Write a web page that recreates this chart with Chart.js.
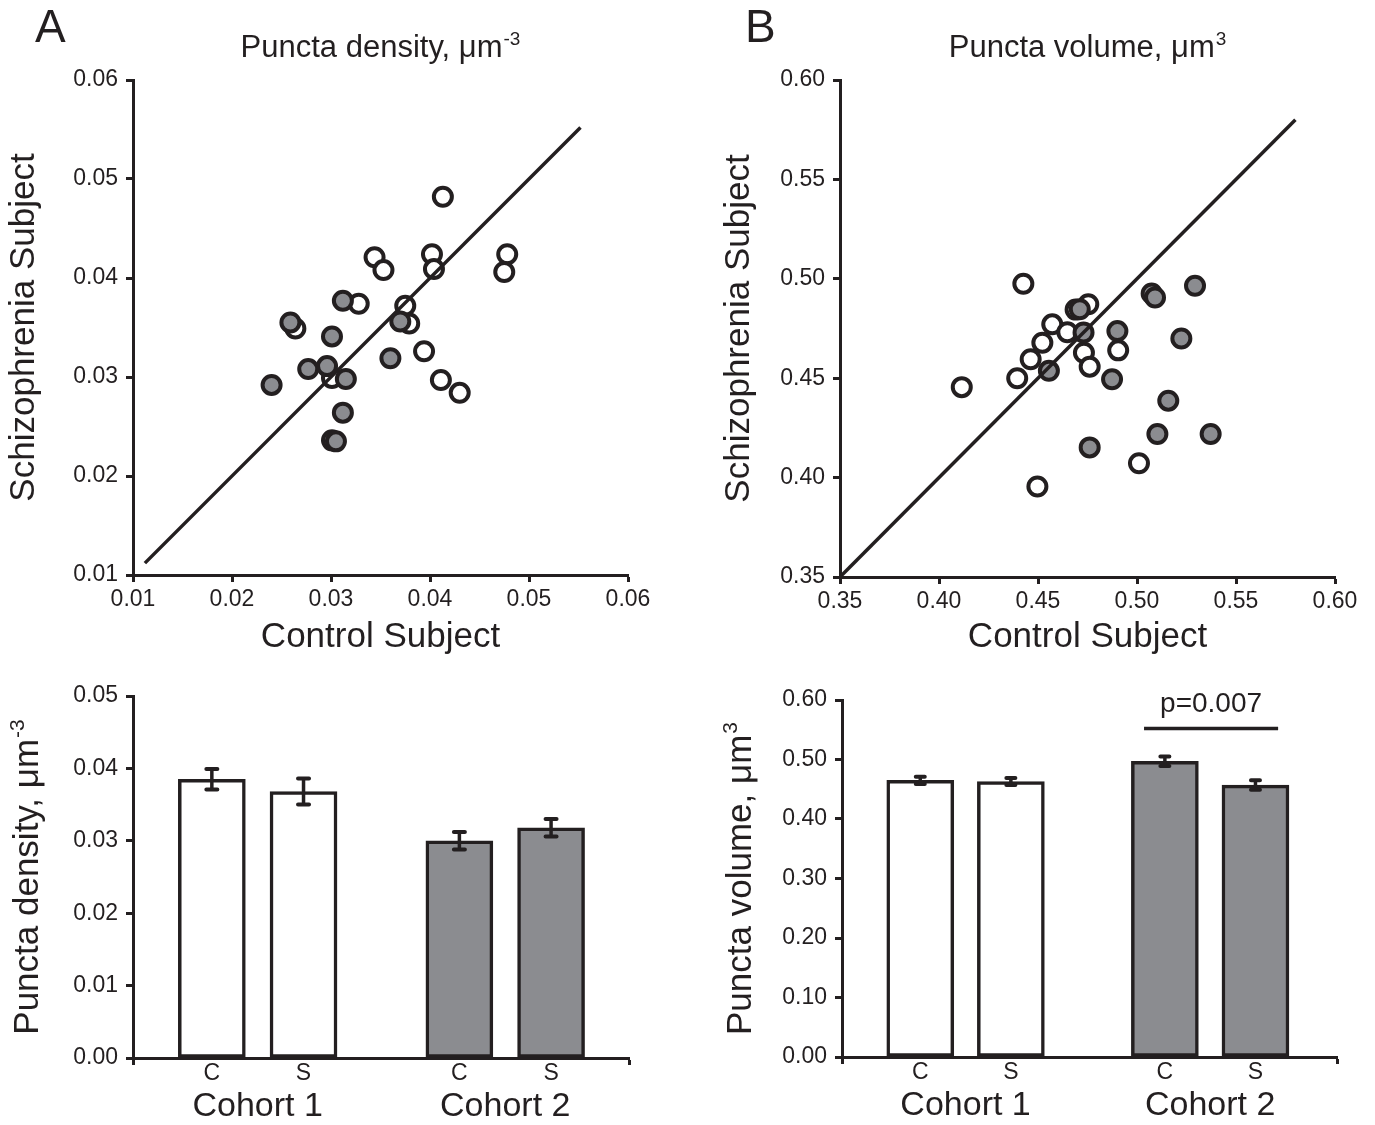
<!DOCTYPE html>
<html>
<head>
<meta charset="utf-8">
<title>Puncta density and volume</title>
<script src="https://cdn.jsdelivr.net/npm/chart.js@4.4.0/dist/chart.umd.min.js"></script>
<style>
  body { margin: 0; background: #fff; }
  #wrap { position: relative; width: 1375px; height: 1125px; overflow: hidden; }
  canvas { position: absolute; }
</style>
</head>
<body>
<div id="wrap">
  <canvas id="densityScatter" width="700" height="680" style="left:0;top:0"></canvas>
  <canvas id="volumeScatter" width="675" height="680" style="left:700px;top:0"></canvas>
  <canvas id="densityBars" width="700" height="452" style="left:0;top:673px"></canvas>
  <canvas id="volumeBars" width="675" height="448" style="left:700px;top:677px"></canvas>
</div>
<script>
// ---- data ----
// A: puncta density, control (x) vs schizophrenia (y)
const densOpenX = [0.0413, 0.0344, 0.0353, 0.0402, 0.0404, 0.0478, 0.0475, 0.0328, 0.0375, 0.0379, 0.0394, 0.0411, 0.0430, 0.0264, 0.0301];
const densOpenY = [0.0482, 0.0421, 0.0408, 0.0424, 0.0409, 0.0424, 0.0406, 0.0374, 0.0372, 0.0354, 0.0326, 0.0297, 0.0284, 0.0349, 0.0299];
const densFilledX = [0.0312, 0.0259, 0.0301, 0.0277, 0.0296, 0.0315, 0.0240, 0.0360, 0.0370, 0.0312, 0.0301, 0.0305];
const densFilledY = [0.0377, 0.0355, 0.0341, 0.0308, 0.0311, 0.0298, 0.0292, 0.0319, 0.0356, 0.0264, 0.0236, 0.0235];
const densIdentity = [0.0112, 0.0552];
const densTicks = [0.01, 0.02, 0.03, 0.04, 0.05, 0.06];

// B: puncta volume
const volOpenX = [0.4426, 0.4115, 0.4395, 0.4463, 0.4522, 0.4572, 0.4648, 0.4690, 0.4754, 0.4732, 0.4761, 0.4905, 0.5010, 0.4497];
const volOpenY = [0.4975, 0.4455, 0.4500, 0.4595, 0.4678, 0.4771, 0.4731, 0.4845, 0.4872, 0.4628, 0.4558, 0.4640, 0.4072, 0.3955];
const volFilledX = [0.4711, 0.4730, 0.4555, 0.4901, 0.4874, 0.5074, 0.5091, 0.5293, 0.5224, 0.5158, 0.5103, 0.5372, 0.4761];
const volFilledY = [0.4847, 0.4730, 0.4537, 0.4737, 0.4495, 0.4926, 0.4906, 0.4965, 0.4700, 0.4387, 0.4219, 0.4219, 0.4152];
const volIdentity = [0.35, 0.58];
const volTicks = [0.35, 0.40, 0.45, 0.50, 0.55, 0.60];

// bar panels: C = control, S = schizophrenia, per cohort
const barCodes = ['C', 'S', 'C', 'S'];
const barCohort = [0, 0, 1, 1];
const barPos = [1, 2, 3.7, 4.7];
const cohortNames = ['Cohort 1', 'Cohort 2'];
const cohortPos = [1.5, 4.2];
const densMeans = [0.0385, 0.0368, 0.0300, 0.0318];
const densErr = [0.0014, 0.0018, 0.0012, 0.0012];
const densBarTicks = [0, 0.01, 0.02, 0.03, 0.04, 0.05];
const volMeans = [0.465, 0.463, 0.497, 0.457];
const volErr = [0.006, 0.006, 0.008, 0.008];
const volBarTicks = [0, 0.1, 0.2, 0.3, 0.4, 0.5, 0.6];
const volSignif = { from: 3.47, to: 4.95, y: 0.552, label: 'p=0.007' };

// ---- style ----
const ink = '#231f20';
const gray = '#8b8c90';
const family = "'Liberation Sans', Arial, Helvetica, sans-serif";
const cohortFill = ['#ffffff', gray];

Chart.defaults.font.family = family;
Chart.defaults.color = ink;

const zip = (xs, ys) => xs.map((x, i) => ({ x: x, y: ys[i] }));
const fixedTicks = arr => scale => { scale.ticks = arr.map(v => ({ value: v })); };

// text with an optional superscript, drawn in canvas pixels
const textLayer = {
  id: 'textLayer',
  afterDraw(chart, args, opts) {
    const ctx = chart.ctx;
    (opts.items || []).forEach(it => {
      const x = typeof it.x === 'function' ? it.x(chart) : it.x;
      const y = typeof it.y === 'function' ? it.y(chart) : it.y;
      const supSize = Math.round(it.size * 0.6);
      ctx.save();
      ctx.translate(x, y);
      if (it.rotate) ctx.rotate(it.rotate);
      ctx.fillStyle = ink;
      ctx.textBaseline = 'alphabetic';
      ctx.textAlign = 'left';
      ctx.font = it.size + 'px ' + family;
      const w1 = ctx.measureText(it.text).width;
      let w2 = 0;
      if (it.sup) {
        ctx.font = supSize + 'px ' + family;
        w2 = ctx.measureText(it.sup).width + 1;
      }
      const x0 = it.align === 'left' ? 0 : -(w1 + w2) / 2;
      ctx.font = it.size + 'px ' + family;
      ctx.fillText(it.text, x0, 0);
      if (it.sup) {
        ctx.font = supSize + 'px ' + family;
        ctx.fillText(it.sup, x0 + w1 + 1, -it.size * 0.4);
      }
      ctx.restore();
    });
  }
};

// mean +/- error whiskers and the significance bracket
const errorBars = {
  id: 'errorBars',
  afterDatasetsDraw(chart, args, opts) {
    if (!opts.means) return;
    const ctx = chart.ctx;
    const xs = chart.scales.x, ys = chart.scales.y;
    ctx.save();
    ctx.strokeStyle = ink;
    ctx.fillStyle = ink;
    opts.means.forEach((m, i) => {
      const px = xs.getPixelForValue(barPos[i]);
      const top = ys.getPixelForValue(m + opts.errors[i]);
      const bot = ys.getPixelForValue(m - opts.errors[i]);
      ctx.lineWidth = 3.5;
      ctx.beginPath();
      ctx.moveTo(px, top);
      ctx.lineTo(px, bot);
      ctx.stroke();
      ctx.lineWidth = 4;
      ctx.lineCap = 'round';
      ctx.beginPath();
      ctx.moveTo(px - opts.cap, top); ctx.lineTo(px + opts.cap, top);
      ctx.moveTo(px - opts.cap, bot); ctx.lineTo(px + opts.cap, bot);
      ctx.stroke();
      ctx.lineCap = 'butt';
    });
    if (opts.signif) {
      const s = opts.signif;
      const yy = ys.getPixelForValue(s.y);
      const x1 = xs.getPixelForValue(s.from), x2 = xs.getPixelForValue(s.to);
      ctx.lineWidth = 3.5;
      ctx.beginPath();
      ctx.moveTo(x1, yy); ctx.lineTo(x2, yy);
      ctx.stroke();
      ctx.font = '28px ' + family;
      ctx.textAlign = 'center';
      ctx.textBaseline = 'alphabetic';
      ctx.fillText(s.label, (x1 + x2) / 2, yy - 17);
    }
    ctx.restore();
  }
};

function axisY(tickList, width, extra) {
  return Object.assign({
    type: 'linear',
    min: tickList[0],
    max: tickList[tickList.length - 1],
    afterBuildTicks: fixedTicks(tickList),
    afterFit: s => { s.width = width; },
    ticks: { callback: v => v.toFixed(2), font: { size: 23 }, color: ink, padding: 8 },
    grid: { drawOnChartArea: false, tickLength: 7, tickWidth: 3, tickColor: ink },
    border: { color: ink, width: 3 }
  }, extra || {});
}

function scatterConfig(p) {
  const n = p.ticks.length;
  return {
    type: 'scatter',
    data: {
      datasets: [
        { label: 'identity', type: 'line', data: zip(p.identity, p.identity),
          borderColor: ink, borderWidth: 3.5, pointRadius: 0, order: 0 },
        { label: 'Cohort 2', data: zip(p.fx, p.fy), backgroundColor: gray,
          borderColor: ink, borderWidth: 4, pointRadius: 9, order: 1 },
        { label: 'Cohort 1', data: zip(p.ox, p.oy), backgroundColor: '#ffffff',
          borderColor: ink, borderWidth: 4, pointRadius: 9, order: 2 }
      ]
    },
    options: {
      responsive: false,
      animation: false,
      layout: { padding: { top: 80, right: p.padRight, left: 0, bottom: 0 } },
      plugins: {
        legend: { display: false },
        tooltip: { enabled: false },
        textLayer: { items: [
          { text: p.letter, size: 46, x: p.letterX, y: 42, align: 'left' },
          { text: p.title, sup: p.titleSup, size: 31,
            x: c => (c.chartArea.left + c.chartArea.right) / 2, y: 57 }
        ] }
      },
      scales: {
        x: {
          type: 'linear',
          min: p.ticks[0],
          max: p.ticks[n - 1],
          afterBuildTicks: fixedTicks(p.ticks),
          afterFit: s => { s.height = p.xHeight; },
          ticks: { callback: v => v.toFixed(2), font: { size: 23 }, color: ink, padding: 4, maxRotation: 0 },
          grid: { drawOnChartArea: false, tickLength: 7, tickWidth: 3, tickColor: ink },
          border: { color: ink, width: 3 },
          title: { display: true, text: 'Control Subject', font: { size: 35 }, color: ink, padding: { bottom: 22 } }
        },
        y: axisY(p.ticks, p.yWidth, {
          title: { display: true, text: 'Schizophrenia Subject', font: { size: 35 }, color: ink, padding: { top: p.yTitlePad } }
        })
      }
    },
    plugins: [textLayer]
  };
}

function barConfig(p) {
  const lastIdx = barPos.length + 1;
  return {
    type: 'bar',
    data: {
      datasets: [{
        label: p.label,
        data: zip(barPos, p.means),
        backgroundColor: barCohort.map(c => cohortFill[c]),
        borderColor: ink,
        borderWidth: 3.5,
        borderSkipped: false,
        barThickness: 67
      }]
    },
    options: {
      responsive: false,
      animation: false,
      layout: { padding: { top: 23, right: p.padRight, left: 0, bottom: 0 } },
      plugins: {
        legend: { display: false },
        tooltip: { enabled: false },
        errorBars: { means: p.means, errors: p.errors, cap: p.cap, signif: p.signif },
        textLayer: { items: [
          { text: p.yTitle, sup: p.yTitleSup, size: 35, rotate: -Math.PI / 2, x: p.yTitleX,
            y: c => (c.chartArea.top + c.chartArea.bottom) / 2 }
        ] }
      },
      scales: {
        x: {
          type: 'linear',
          min: p.xMin,
          max: p.xMax,
          offset: false,
          afterBuildTicks: s => { s.ticks = [p.xMin].concat(barPos, [p.xMax]).map(v => ({ value: v })); },
          afterFit: s => { s.height = 26; },
          ticks: {
            callback: (v, i) => (i === 0 || i === lastIdx) ? '' : barCodes[i - 1],
            font: { size: 23 }, color: ink, padding: -5, maxRotation: 0, autoSkip: false
          },
          grid: {
            offset: false, drawOnChartArea: false, tickLength: 7, tickWidth: 3,
            tickColor: c => (c.index === 0 || c.index === lastIdx) ? ink : 'rgba(0,0,0,0)'
          },
          border: { color: ink, width: 3 }
        },
        x2: {
          type: 'linear',
          position: 'bottom',
          min: p.xMin,
          max: p.xMax,
          offset: false,
          afterBuildTicks: fixedTicks(cohortPos),
          afterFit: s => { s.height = p.canvasH - p.plotBottom - 26; },
          ticks: { callback: (v, i) => cohortNames[i], font: { size: 34 }, color: ink, padding: -6, maxRotation: 0, autoSkip: false },
          grid: { display: false, offset: false },
          border: { display: false }
        },
        y: axisY(p.ticks, p.yWidth)
      }
    },
    plugins: [errorBars, textLayer]
  };
}

new Chart(document.getElementById('densityScatter'), scatterConfig({
  ox: densOpenX, oy: densOpenY, fx: densFilledX, fy: densFilledY,
  identity: densIdentity, ticks: densTicks,
  letter: 'A', letterX: 35, title: 'Puncta density, \u03bcm', titleSup: '-3',
  padRight: 72, xHeight: 105, yWidth: 133, yTitlePad: 3
}));

new Chart(document.getElementById('volumeScatter'), scatterConfig({
  ox: volOpenX, oy: volOpenY, fx: volFilledX, fy: volFilledY,
  identity: volIdentity, ticks: volTicks,
  letter: 'B', letterX: 45, title: 'Puncta volume, \u03bcm', titleSup: '3',
  padRight: 40, xHeight: 103, yWidth: 140, yTitlePad: 18
}));

new Chart(document.getElementById('densityBars'), barConfig({
  label: 'Puncta density', means: densMeans, errors: densErr, ticks: densBarTicks, cap: 5.5,
  yTitle: 'Puncta density, \u03bcm', yTitleSup: '-3', yTitleX: 38,
  xMin: 0.14, xMax: 5.55, padRight: 71, canvasH: 452, plotBottom: 385, yWidth: 133
}));

new Chart(document.getElementById('volumeBars'), barConfig({
  label: 'Puncta volume', means: volMeans, errors: volErr, ticks: volBarTicks, cap: 4.5,
  yTitle: 'Puncta volume, \u03bcm', yTitleSup: '3', yTitleX: 51, signif: volSignif,
  xMin: 0.136, xMax: 5.6, padRight: 38, canvasH: 448, plotBottom: 380, yWidth: 142
}));
</script>
</body>
</html>
